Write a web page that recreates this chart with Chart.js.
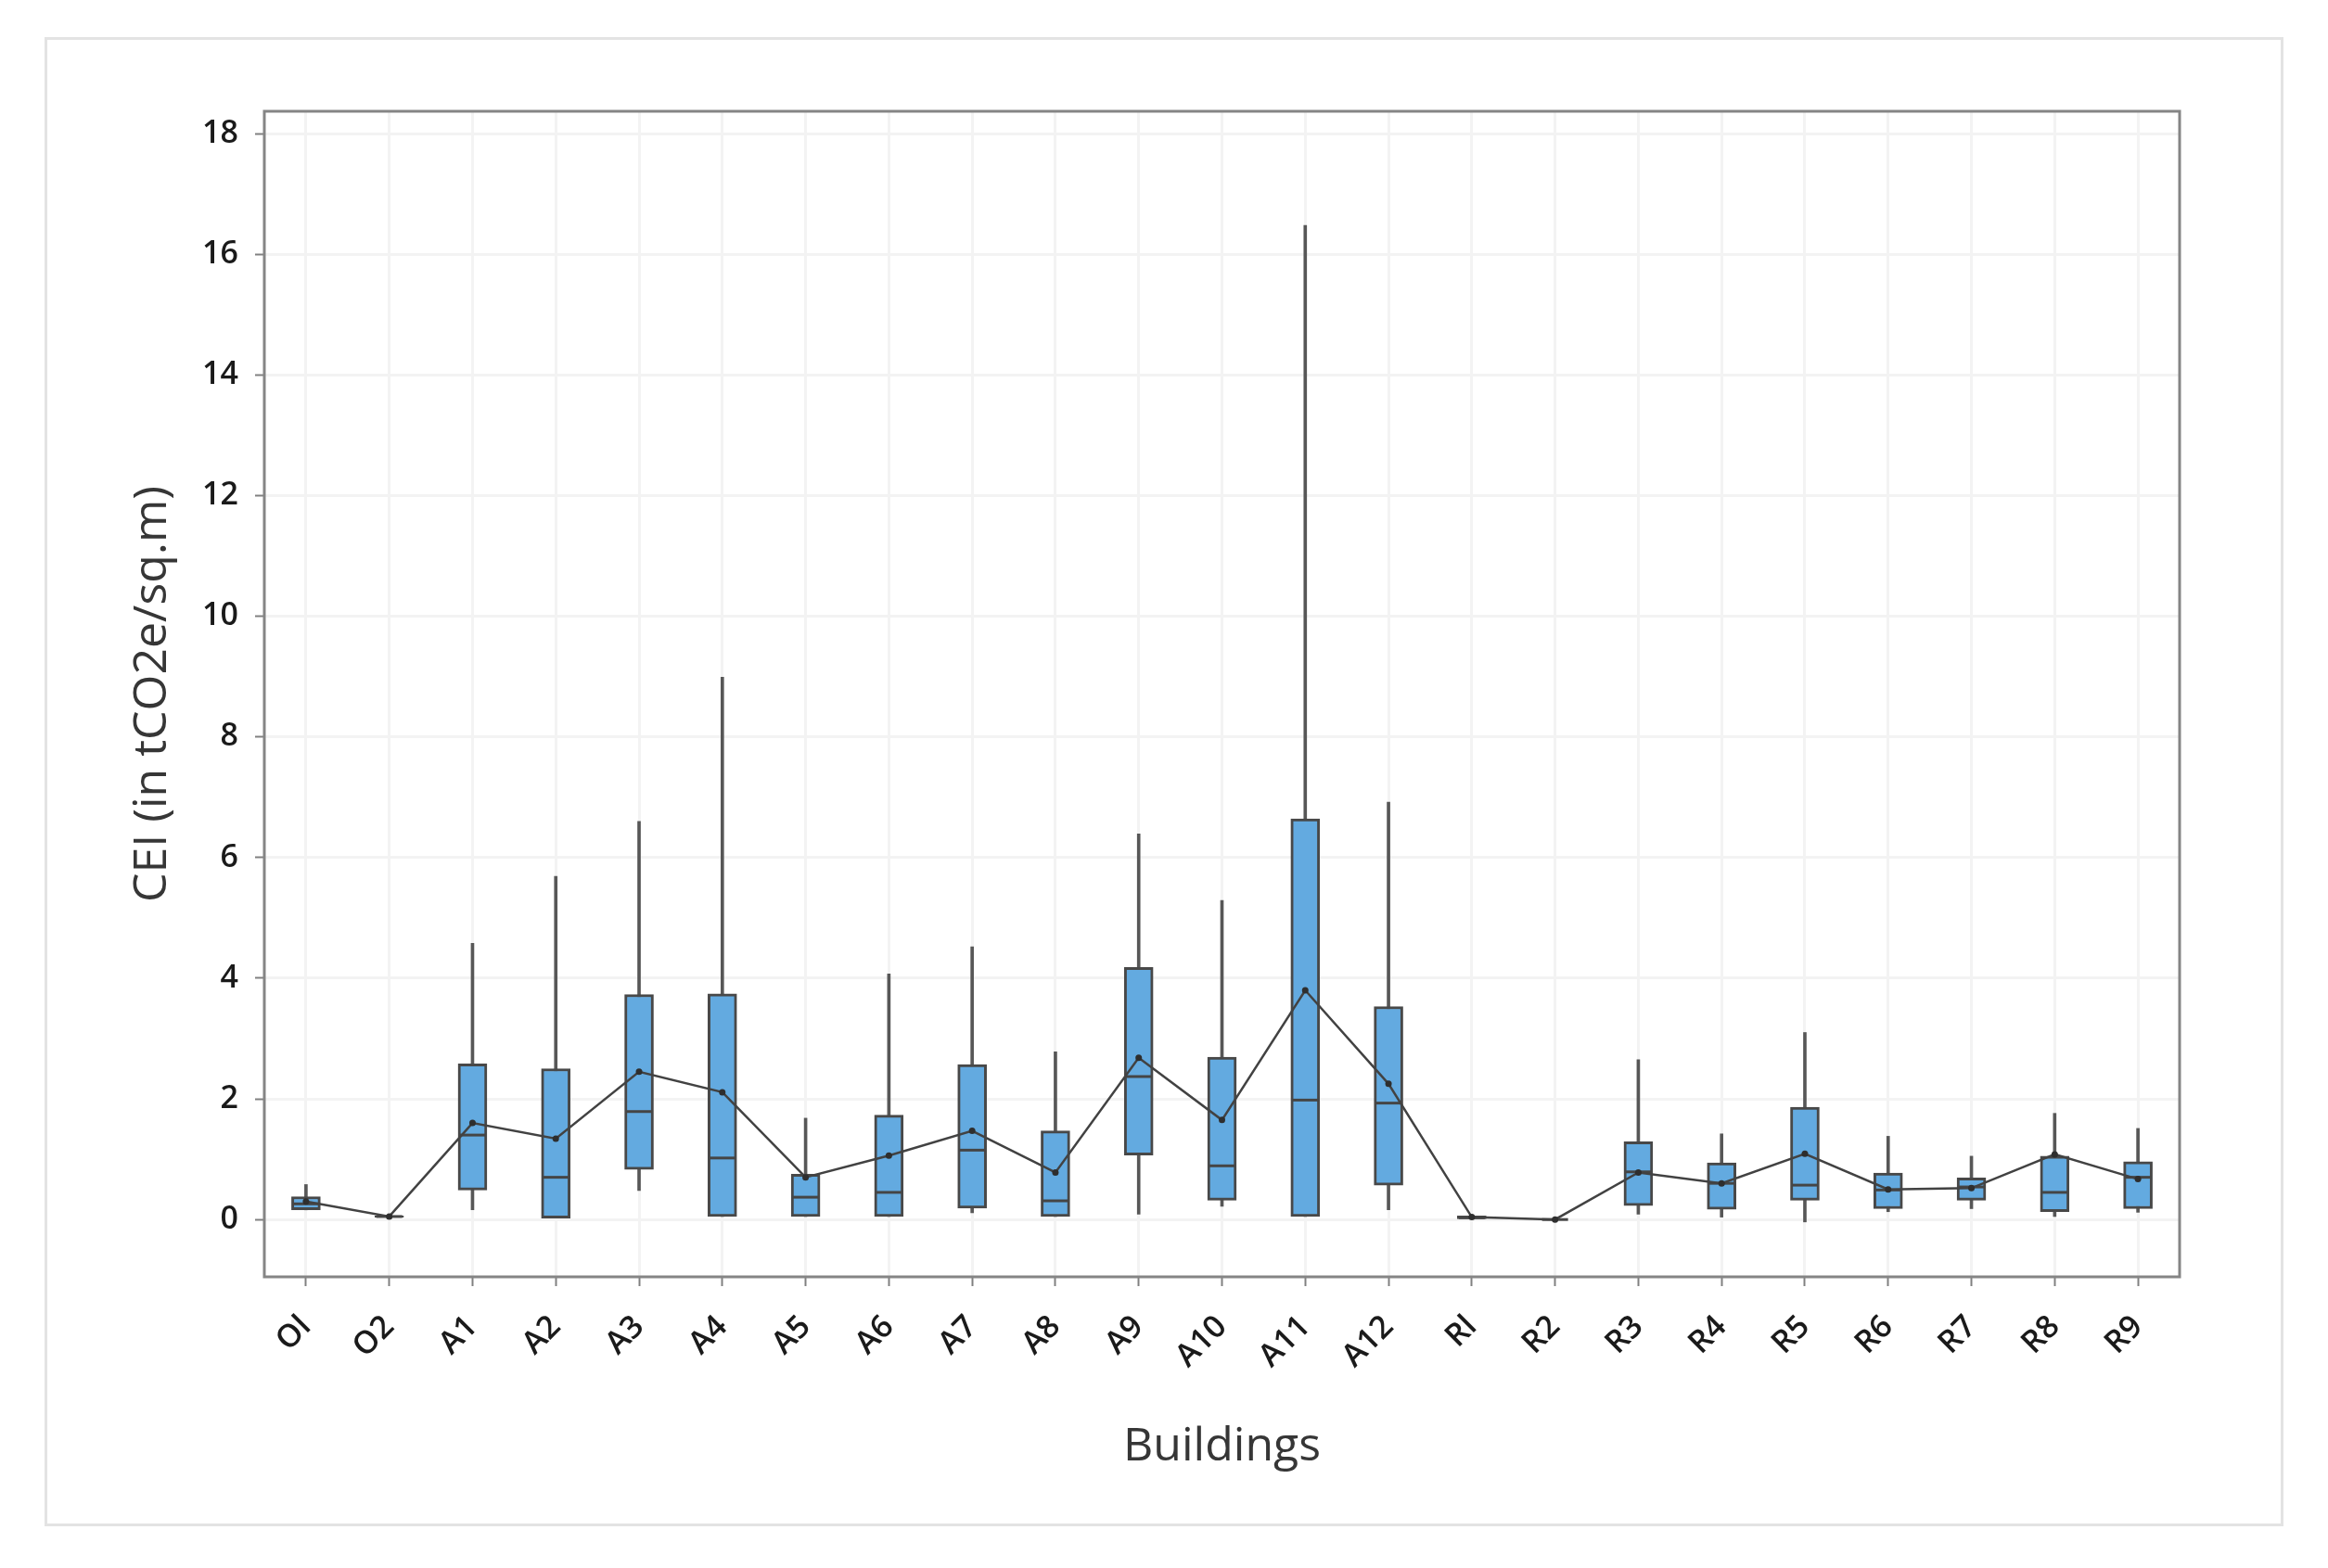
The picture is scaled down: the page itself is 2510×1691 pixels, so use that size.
<!DOCTYPE html>
<html>
<head>
<meta charset="utf-8">
<script src="https://cdn.jsdelivr.net/npm/chart.js@4.4.0/dist/chart.umd.min.js"></script>
<style>
  html, body { margin: 0; padding: 0; background: #fff; }
  #frame { position: absolute; left: 48px; top: 40px; width: 2408px; height: 1600px; border: 3px solid #e3e3e3; }
  #wrap { position: absolute; left: 0; top: 0; width: 2510px; height: 1691px; }
</style>
</head>
<body>
<div id="frame"></div>
<div id="wrap"><canvas id="boxChart"></canvas></div>
<script>
// buildings on the x axis
const buildings = ['Ol', 'O2', 'A1', 'A2', 'A3', 'A4', 'A5', 'A6', 'A7', 'A8', 'A9', 'A10', 'A11', 'A12',
                   'Rl', 'R2', 'R3', 'R4', 'R5', 'R6', 'R7', 'R8', 'R9'];

// box plot stats (tCO2e/sq.m)
const whiskerLow  = [0.16, 0.04, 0.16, 0.00, 0.48, 0.05, 0.05, 0.05, 0.11, 0.05, 0.09, 0.22, 0.05, 0.16,
                     0.00, 0.00, 0.09, 0.04, -0.04, 0.13, 0.18, 0.05, 0.12];
const q1          = [0.16, 0.04, 0.49, 0.00, 0.83, 0.05, 0.05, 0.05, 0.19, 0.05, 1.07, 0.32, 0.05, 0.57,
                     0.01, 0.00, 0.23, 0.17, 0.32, 0.18, 0.32, 0.13, 0.18];
const median      = [0.26, 0.05, 1.40, 0.70, 1.79, 1.02, 0.37, 0.45, 1.15, 0.31, 2.37, 0.89, 1.98, 1.93,
                     0.03, 0.00, 0.79, 0.60, 0.57, 0.49, 0.54, 0.45, 0.70];
const q3          = [0.38, 0.06, 2.58, 2.50, 3.73, 3.74, 0.75, 1.73, 2.57, 1.47, 4.18, 2.69, 6.64, 3.53,
                     0.06, 0.00, 1.29, 0.94, 1.86, 0.77, 0.69, 1.05, 0.96];
const whiskerHigh = [0.58, 0.06, 4.58, 5.69, 6.60, 8.99, 1.68, 4.07, 4.52, 2.78, 6.39, 5.29, 16.48, 6.92,
                     0.06, 0.00, 2.65, 1.42, 3.10, 1.38, 1.05, 1.76, 1.51];
const mean        = [0.30, 0.05, 1.60, 1.34, 2.45, 2.11, 0.70, 1.06, 1.47, 0.78, 2.68, 1.65, 3.80, 2.25,
                     0.04, 0.00, 0.78, 0.60, 1.09, 0.50, 0.52, 1.08, 0.67];

const yTicks = [0, 2, 4, 6, 8, 10, 12, 14, 16, 18];

const plotFrame = {
    id: 'plotFrame',
    afterDraw(chart) {
        const { ctx, chartArea: a } = chart;
        ctx.save();
        ctx.strokeStyle = '#858585';
        ctx.lineWidth = 3;
        ctx.strokeRect(a.left, a.top, a.right - a.left, a.bottom - a.top);
        ctx.restore();
    }
};

const tickFont = { family: '"Open Sans", "Noto Sans", sans-serif', size: 34, weight: '600' };
const titleFont = { family: '"Open Sans", "Noto Sans", sans-serif', size: 50 };

const ctx = document.getElementById('boxChart').getContext('2d');
new Chart(ctx, {
    type: 'bar',
    data: {
        labels: buildings,
        datasets: [
            {
                label: 'Whiskers',
                data: whiskerLow.map((v, i) => [v, whiskerHigh[i]]),
                backgroundColor: '#575757',
                borderWidth: 0,
                barThickness: 3,
                grouped: false,
                order: 4
            },
            {
                label: 'IQR',
                data: q1.map((v, i) => [v, q3[i]]),
                backgroundColor: '#63aae0',
                borderColor: '#484848',
                borderWidth: 3,
                borderSkipped: false,
                barThickness: 31,
                grouped: false,
                order: 3
            },
            {
                type: 'line',
                label: 'Median',
                data: median,
                showLine: false,
                pointStyle: 'line',
                pointRadius: 14,
                pointBorderWidth: 3,
                pointBorderColor: '#454545',
                order: 2
            },
            {
                type: 'line',
                label: 'Mean',
                data: mean,
                borderColor: '#424242',
                borderWidth: 2.5,
                tension: 0,
                pointRadius: 3.5,
                pointBackgroundColor: '#2e2e2e',
                pointBorderWidth: 0,
                order: 1
            }
        ]
    },
    options: {
        responsive: true,
        maintainAspectRatio: false,
        animation: false,
        layout: {
            padding: { left: 135, top: 120, right: 160, bottom: 100 }
        },
        plugins: {
            legend: { display: false },
            tooltip: { enabled: false }
        },
        scales: {
            x: {
                type: 'category',
                offset: true,
                afterFit: (scale) => { scale.height = 214; },
                border: { display: false },
                grid: {
                    offset: false,
                    color: '#f3f3f3',
                    lineWidth: 3,
                    tickColor: '#808080',
                    tickWidth: 2,
                    tickLength: 10
                },
                ticks: {
                    color: '#1a1a1a',
                    font: tickFont,
                    minRotation: 45,
                    maxRotation: 45,
                    padding: 24,
                    autoSkip: false
                },
                title: {
                    display: true,
                    text: 'Buildings',
                    color: '#363636',
                    font: titleFont,
                    padding: 0
                }
            },
            y: {
                min: -0.95,
                max: 18.37,
                afterFit: (scale) => { scale.width = 150; },
                afterBuildTicks: (scale) => { scale.ticks = yTicks.map(v => ({ value: v })); },
                border: { display: false },
                grid: {
                    color: '#f3f3f3',
                    lineWidth: 3,
                    tickColor: '#808080',
                    tickWidth: 2,
                    tickLength: 10
                },
                ticks: {
                    color: '#1a1a1a',
                    font: tickFont,
                    padding: 18
                },
                title: {
                    display: true,
                    text: 'CEI (in tCO2e/sq.m)',
                    color: '#363636',
                    font: titleFont,
                    padding: 0
                }
            }
        }
    },
    plugins: [plotFrame]
});
</script>
</body>
</html>
